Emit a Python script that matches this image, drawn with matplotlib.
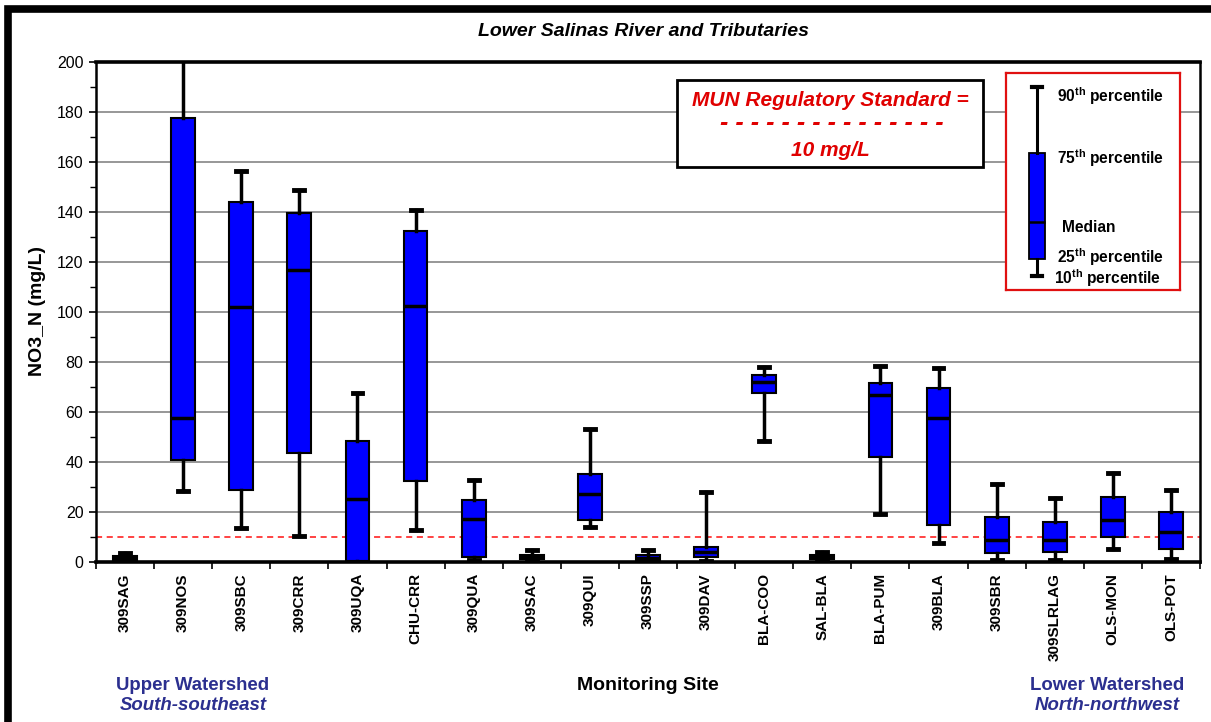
import matplotlib
matplotlib.use("Agg")
import matplotlib.pyplot as plt
from matplotlib.patches import Rectangle

plt.rcParams['font.family'] = ['Liberation Sans', 'DejaVu Sans']
plt.rcParams['mathtext.fontset'] = 'custom'
plt.rcParams['mathtext.bf'] = 'Liberation Sans:bold'
plt.rcParams['mathtext.rm'] = 'Liberation Sans'

# ---------------- data ----------------
sites = ['309SAG', '309NOS', '309SBC', '309CRR', '309UQA', 'CHU-CRR', '309QUA', '309SAC',
         '309QUI', '309SSP', '309DAV', 'BLA-COO', 'SAL-BLA', 'BLA-PUM', '309BLA', '309SBR',
         '309SLRLAG', 'OLS-MON', 'OLS-POT']
p10 = [0.5, 28.4, 13.7, 10.3, 0.0, 12.9, 0.7, 0.5, 14.1, 0.5, 0.3, 48.3, 0.5, 19.3, 7.7, 0.7, 0.9, 5.2, 1.3]
p25 = [0.8, 41.0, 29.0, 43.7, 0.3, 32.3, 2.0, 1.3, 16.8, 1.0, 2.0, 67.7, 1.2, 42.0, 14.9, 3.7, 3.9, 9.9, 5.2]
med = [1.6, 57.6, 102.0, 116.7, 25.3, 102.4, 17.3, 2.0, 27.2, 1.8, 4.0, 72.0, 2.0, 66.9, 57.7, 8.7, 8.8, 16.8, 12.1]
p75 = [2.4, 177.7, 144.0, 139.7, 48.4, 132.3, 24.7, 2.9, 35.2, 2.7, 6.0, 74.7, 3.0, 71.7, 69.7, 18.0, 16.2, 26.1, 19.9]
p90 = [3.6, 205.0, 156.5, 149.0, 67.7, 141.0, 32.9, 4.9, 53.3, 4.7, 28.0, 77.9, 4.0, 78.4, 77.7, 31.3, 25.8, 35.6, 28.8]
standard = 10
y_ticks = [0, 20, 40, 60, 80, 100, 120, 140, 160, 180, 200]
legend_glyph = dict(whislo=10, q1=17, med=33, q3=62, whishi=90)
legend_labels = ['90th', '75th', 'Median', '25th', '10th']

title = 'Lower Salinas River and Tributaries'
ylabel = 'NO3_N (mg/L)'
xlabel = 'Monitoring Site'

W, H = 1211, 722
fig = plt.figure(figsize=(W / 100, H / 100), dpi=100)

def fx(px):
    return px / W

def fy(py):
    return 1 - py / H

ax = fig.add_axes([fx(96), fy(562), fx(1200) - fx(96), fy(62) - fy(562)])

stats = []
for i in range(len(sites)):
    stats.append(dict(whislo=p10[i], q1=p25[i], med=med[i], q3=p75[i], whishi=p90[i], label=sites[i]))

pos = list(range(len(sites)))
ax.bxp(stats, positions=pos, widths=0.41, capwidths=0.17, showfliers=False, patch_artist=True,
       boxprops=dict(facecolor='#0000FF', edgecolor='black', linewidth=1.5),
       medianprops=dict(color='black', linewidth=2.5),
       whiskerprops=dict(color='black', linewidth=2.5),
       capprops=dict(color='black', linewidth=3.5), zorder=3)

ax.set_xlim(-0.5, len(sites) - 0.5)
ax.set_ylim(0, 200)
ax.set_yticks(y_ticks)
ax.set_yticks([v + 10 for v in y_ticks[:-1]], minor=True)
ax.yaxis.grid(True, which='major', color='#7a7a7a', linewidth=1.1, zorder=0)
ax.set_axisbelow(True)
ax.axhline(standard, color='#FF1010', linestyle=(0, (4, 3)), linewidth=1.1, zorder=2)

ax.set_xticks([p - 0.5 for p in pos] + [len(sites) - 0.5])
ax.set_xticklabels([])
ax.set_xticks(pos, minor=True)
ax.set_xticklabels(sites, minor=True, rotation=90, fontsize=11, fontweight='bold', va='top', ha='center')
ax.tick_params(axis='x', which='major', direction='out', length=5, width=1.2)
ax.tick_params(axis='x', which='minor', length=0, pad=8)
ax.tick_params(axis='y', which='major', direction='out', length=5, width=1.2, labelsize=11.5, pad=4)
ax.tick_params(axis='y', which='minor', direction='out', length=4, width=1.0)

for s in ['left', 'right']:
    ax.spines[s].set_linewidth(1.8)
for s in ['top', 'bottom']:
    ax.spines[s].set_linewidth(2.6)

# texts
fig.text(fx(643), fy(31), title, ha='center', va='center', fontsize=14, fontweight='bold', style='italic')
fig.text(fx(38), fy(311), ylabel, ha='center', va='center', rotation=90, fontsize=14, fontweight='bold')
fig.text(fx(648), fy(686), xlabel, ha='center', va='center', fontsize=14, fontweight='bold')
navy = '#2B2F8F'
fig.text(fx(193), fy(685), 'Upper Watershed', ha='center', va='center', fontsize=13.4, fontweight='bold',
         color=navy)
fig.text(fx(193), fy(706), 'South-southeast', ha='center', va='center', fontsize=13.4, fontweight='bold',
         style='italic', color=navy)
fig.text(fx(1107), fy(685), 'Lower Watershed', ha='center', va='center', fontsize=13.4, fontweight='bold',
         color=navy)
fig.text(fx(1107), fy(706), 'North-northwest', ha='center', va='center', fontsize=13.4, fontweight='bold',
         style='italic', color=navy)

# MUN standard box
fig.patches.append(Rectangle((fx(677), fy(167)), fx(983) - fx(677), fy(80) - fy(167),
                             transform=fig.transFigure, facecolor='white', edgecolor='black',
                             linewidth=2.0, zorder=5))
red = '#E00000'
fig.text(fx(830), fy(100), 'MUN Regulatory Standard =', ha='center', va='center', fontsize=15,
         fontweight='bold', style='italic', color=red, zorder=6)
fig.text(fx(832), fy(123), ' '.join(['-'] * 15), ha='center', va='center', fontsize=18,
         fontweight='bold', style='italic', color=red, zorder=6)
fig.text(fx(830), fy(150), f'{standard} mg/L', ha='center', va='center', fontsize=15,
         fontweight='bold', style='italic', color=red, zorder=6)

# legend box
lax = fig.add_axes([fx(1006), fy(290), fx(1180) - fx(1006), fy(73) - fy(290)])
lax.set_facecolor('white')
lax.bxp([legend_glyph], positions=[0.178], widths=0.088, capwidths=0.06, showfliers=False, patch_artist=True,
        boxprops=dict(facecolor='#0000FF', edgecolor='black', linewidth=1.3),
        medianprops=dict(color='black', linewidth=1.8),
        whiskerprops=dict(color='black', linewidth=2.2),
        capprops=dict(color='black', linewidth=3.0))
lax.set_xlim(0, 1)
lax.set_ylim(4.07, 95.93)
lax.set_xticks([])
lax.set_yticks([])
for s in lax.spines.values():
    s.set_color('#E01010')
    s.set_linewidth(1.6)
leg_pos = [(0.293, 0.894), (0.293, 0.608), (0.322, 0.290), (0.293, 0.152), (0.276, 0.055)]
for lab, (x, y) in zip(legend_labels, leg_pos):
    if lab == 'Median':
        txt = 'Median'
    else:
        txt = r'$\mathbf{' + lab[:2] + r'^{' + lab[2:] + r'}}$ percentile'
    lax.text(x, y, txt, transform=lax.transAxes, ha='left', va='center', fontsize=11.2, fontweight='bold')

# outer frame (cropped at right and bottom)
fig.patches.append(Rectangle((fx(8), fy(760)), fx(1260) - fx(8), fy(8.5) - fy(760),
                             transform=fig.transFigure, facecolor='none', edgecolor='black',
                             linewidth=5.5, zorder=10))

fig.savefig('out.png', dpi=100)
